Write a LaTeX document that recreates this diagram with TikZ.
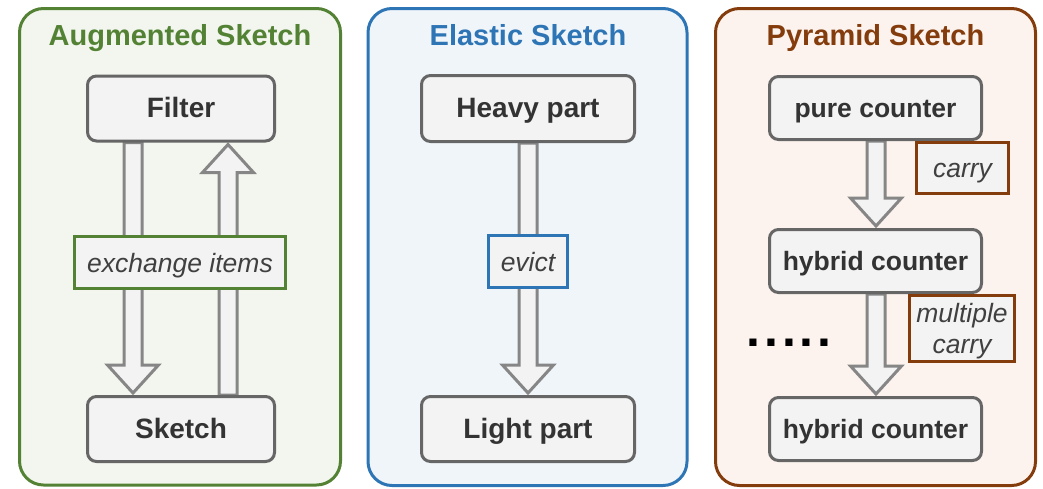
\documentclass[tikz,border=0pt]{standalone}
\usepackage{fontspec}
\setmainfont{Liberation Sans}
\usetikzlibrary{calc}
\pgfdeclarelayer{panel}
\pgfdeclarelayer{arrows}
\pgfsetlayers{panel,arrows,main}
\definecolor{agreen}{HTML}{548235}
\definecolor{agreenbg}{HTML}{F2F6EE}
\definecolor{eblue}{HTML}{2E75B6}
\definecolor{ebluebg}{HTML}{F0F5FA}
\definecolor{pbrown}{HTML}{843C0C}
\definecolor{pbrownbg}{HTML}{FCF3EE}
\definecolor{boxfill}{HTML}{F3F3F3}
\definecolor{boxline}{HTML}{666666}
\definecolor{arrline}{HTML}{868686}
\definecolor{txt}{HTML}{333333}
\definecolor{itxt}{HTML}{404040}
\tikzset{
 panelbox/.style={line width=3pt, rounded corners=24pt},
 titletext/.style={font=\fontsize{29}{34}\selectfont\bfseries, anchor=base, inner sep=0pt},
 unitbox/.style={draw=boxline, fill=boxfill, line width=3pt, rounded corners=9pt, text=txt,
   font=\fontsize{28}{33}\selectfont\bfseries, text height=18pt, text depth=0pt, inner sep=0pt},
 pcounter/.style={unitbox, font=\fontsize{26.5}{31}\selectfont\bfseries, minimum width=212pt, minimum height=63pt},
 labelbox/.style={fill=boxfill, line width=3pt, text=itxt,
   font=\fontsize{26.5}{31.6}\selectfont\itshape, inner sep=0pt},
 onelabel/.style={labelbox, text height=19pt, text depth=0pt},
 blockarr/.style={draw=arrline, fill=boxfill, line width=3pt, line join=miter},
}
\newcommand{\blockdown}[2]{%
 \draw[blockarr] let \p1=(#1), \p2=(#2) in
 (\x1-9pt,\y1) -- (\x1-9pt,\y2+28pt) -- (\x1-25.5pt,\y2+28pt) -- (\x2,\y2)
 -- (\x1+25.5pt,\y2+28pt) -- (\x1+9pt,\y2+28pt) -- (\x1+9pt,\y1) -- cycle;}
\newcommand{\blockup}[2]{%
 \draw[blockarr] let \p1=(#1), \p2=(#2) in
 (\x1-9pt,\y1) -- (\x1-9pt,\y2-28pt) -- (\x1-25.5pt,\y2-28pt) -- (\x2,\y2)
 -- (\x1+25.5pt,\y2-28pt) -- (\x1+9pt,\y2-28pt) -- (\x1+9pt,\y1) -- cycle;}
\begin{document}
\begin{tikzpicture}[x=1pt,y=-1pt]
\useasboundingbox (0,0) rectangle (1043,488);
\begin{pgfonlayer}{panel}
\draw[panelbox, draw=agreen, fill=agreenbg] (19.5,8.5) rectangle (340.5,485);
\draw[panelbox, draw=eblue, fill=ebluebg] (368,8.5) rectangle (687,485.5);
\draw[panelbox, draw=pbrown, fill=pbrownbg] (715.5,8.5) rectangle (1035.5,485.5);
\end{pgfonlayer}
% titles
\node[titletext, text=agreen] (tA) at (180,45) {Augmented Sketch};
\node[titletext, text=eblue] (tE) at (528,45) {Elastic Sketch};
\node[titletext, text=pbrown] (tP) at (875.5,45) {Pyramid Sketch};
% Augmented
\node[unitbox, minimum width=187pt, minimum height=65pt] (filter) at (181,108.5) {Filter};
\node[unitbox, minimum width=187pt, minimum height=65pt] (sketch) at (181,429) {Sketch};
\node[onelabel, draw=agreen, minimum width=211pt, minimum height=52pt] (exch) at (180,262.5) {exchange items};
\coordinate (gdown) at (133,0);
\coordinate (gup) at (228,0);
% Elastic
\node[unitbox, minimum width=213pt, minimum height=66pt] (heavy) at (528,108.5) {Heavy part};
\node[unitbox, minimum width=213pt, minimum height=65pt] (light) at (528,429) {Light part};
\node[onelabel, draw=eblue, minimum width=79pt, minimum height=52pt] (evict) at (528,261.5) {evict};
% Pyramid
\node[pcounter] (pure) at (875.5,108) {pure counter};
\node[pcounter] (hyb1) at (875.5,261) {hybrid counter};
\node[pcounter] (hyb2) at (875.5,429) {hybrid counter};
\node[onelabel, draw=pbrown, minimum width=92pt, minimum height=51pt] (carry) at (962.5,168) {carry};
\node[labelbox, draw=pbrown, align=center, text depth=0pt, minimum width=105pt, minimum height=66pt] (mcarry) at (962,328.5) {multiple\\carry};
\node[font=\fontsize{50}{50}\selectfont\bfseries\addfontfeatures{LetterSpace=7.7}, anchor=base, inner sep=0pt] (dots) at (789,346) {.....};
\coordinate (px) at (876,0);
% block arrows
\begin{pgfonlayer}{arrows}
\blockdown{filter.south -| gdown}{$(sketch.north -| gdown)+(0,-2)$}
\blockup{sketch.north -| gup}{$(filter.south -| gup)+(0,2)$}
\blockdown{heavy.south}{$(light.north)+(0,-2)$}
\blockdown{pure.south -| px}{$(hyb1.north -| px)+(0,-2)$}
\blockdown{hyb1.south -| px}{$(hyb2.north -| px)+(0,-2)$}
\end{pgfonlayer}
\end{tikzpicture}
\end{document}
